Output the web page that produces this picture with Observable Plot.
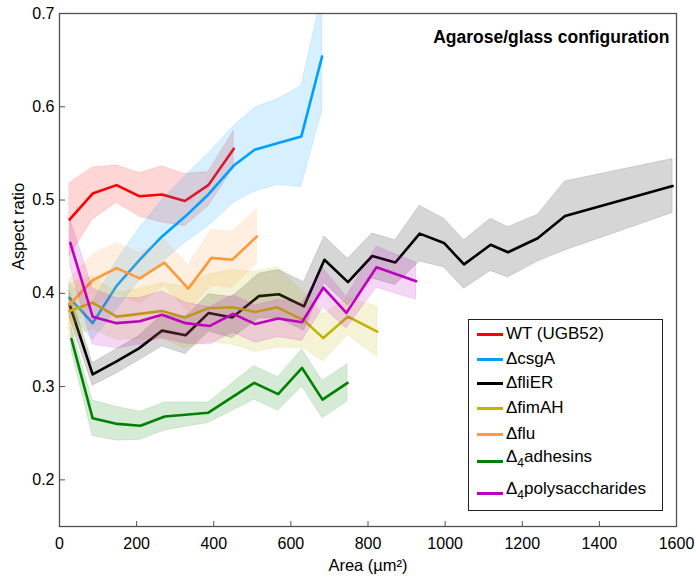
<!DOCTYPE html>
<html><head><meta charset="utf-8">
<script src="https://cdn.jsdelivr.net/npm/d3@7"></script>
<script src="https://cdn.jsdelivr.net/npm/@observablehq/plot@0.6"></script>
<style>
body{margin:0;background:#fff;font-family:"Liberation Sans",Arial,sans-serif;}
#wrap{position:relative;width:696px;height:581px;}
#legend{position:absolute;left:468px;top:319px;width:195px;height:192px;border:1px solid #222;background:#fff;box-sizing:border-box;font-size:17px;color:#000;}
.row{position:absolute;left:0;height:24px;display:flex;align-items:center;white-space:nowrap;}
.sw{width:26px;height:3px;margin-left:8px;margin-right:3px;flex:none;}
sub{font-size:12px;vertical-align:-5px;line-height:0;}
</style></head><body><div id="wrap"></div>
<script>
// ---- data ----
const xTicks = [0, 200, 400, 600, 800, 1000, 1200, 1400, 1600];
const yTicks = [0.2, 0.3, 0.4, 0.5, 0.6, 0.7];

const wtX  = [26, 86, 148, 208, 266, 325, 386, 452];
const wtY  = [0.479, 0.507, 0.516, 0.504, 0.506, 0.499, 0.516, 0.555];
const wtHi = [0.518, 0.535, 0.537, 0.529, 0.536, 0.528, 0.530, 0.574];
const wtLo = [0.440, 0.479, 0.497, 0.482, 0.476, 0.472, 0.493, 0.535];

const csgX  = [26, 86, 148, 208, 266, 325, 386, 452, 506, 565, 627, 681];
const csgY  = [0.395, 0.368, 0.408, 0.436, 0.461, 0.482, 0.506, 0.537, 0.554, 0.561, 0.568, 0.654];
const csgHi = [0.410, 0.390, 0.435, 0.470, 0.500, 0.525, 0.550, 0.579, 0.599, 0.608, 0.622, 0.720];
const csgLo = [0.380, 0.350, 0.382, 0.414, 0.433, 0.454, 0.472, 0.497, 0.509, 0.516, 0.514, 0.595];

const fliX = [26, 86, 148, 206, 266, 327, 387, 448, 517, 569, 634, 687, 748, 811, 871, 934, 997, 1049, 1118, 1163, 1240, 1311, 1590];
const fliY = [0.388, 0.313, 0.327, 0.341, 0.360, 0.355, 0.379, 0.374, 0.397, 0.399, 0.386, 0.436, 0.412, 0.440, 0.433, 0.464, 0.454, 0.431, 0.452, 0.444, 0.459, 0.483, 0.515];
const fliErr = [0.014, 0.012, 0.013, 0.013, 0.017, 0.020, 0.020, 0.022, 0.024, 0.026, 0.026, 0.025, 0.025, 0.024, 0.024, 0.030, 0.026, 0.026, 0.028, 0.027, 0.025, 0.037, 0.029];

const fimX = [26, 86, 148, 208, 266, 325, 386, 448, 508, 565, 634, 684, 748, 824];
const fimY = [0.381, 0.390, 0.375, 0.378, 0.381, 0.374, 0.384, 0.385, 0.380, 0.385, 0.371, 0.352, 0.375, 0.359];
const fimErr = [0.030, 0.028, 0.025, 0.027, 0.030, 0.033, 0.036, 0.040, 0.043, 0.043, 0.030, 0.025, 0.020, 0.027];

const fluX = [26, 86, 148, 208, 272, 334, 394, 448, 512];
const fluY = [0.388, 0.414, 0.427, 0.416, 0.433, 0.405, 0.438, 0.436, 0.461];
const fluErr = [0.027, 0.027, 0.027, 0.027, 0.025, 0.025, 0.030, 0.030, 0.029];

const adhX = [31, 86, 150, 210, 273, 386, 505, 567, 629, 682, 747];
const adhY = [0.351, 0.266, 0.260, 0.258, 0.268, 0.272, 0.304, 0.292, 0.320, 0.286, 0.304];
const adhErr = [0.012, 0.019, 0.018, 0.015, 0.015, 0.011, 0.018, 0.018, 0.020, 0.020, 0.020];

const polX = [28, 86, 148, 208, 266, 327, 390, 450, 508, 567, 629, 684, 744, 822, 925];
const polY = [0.454, 0.375, 0.368, 0.370, 0.377, 0.368, 0.365, 0.378, 0.367, 0.373, 0.369, 0.406, 0.379, 0.428, 0.413];
const polErr = [0.025, 0.030, 0.027, 0.025, 0.025, 0.022, 0.020, 0.020, 0.020, 0.020, 0.020, 0.021, 0.017, 0.022, 0.020];

const names = ["WT (UGB52)", "ΔcsgA", "ΔfliER", "ΔfimAH", "Δflu", "Δ<sub>4</sub>adhesins", "Δ<sub>4</sub>polysaccharides"];
const colors = ["#ff0000", "#00a0ff", "#000000", "#bfb400", "#ff9a3c", "#008000", "#c000c0"];

// ---- build tables ----
function rowsLoHi(x, y, lo, hi) { return x.map((v, i) => ({x: v, y: y[i], lo: lo[i], hi: hi[i]})); }
function rowsErr(x, y, e) { return x.map((v, i) => ({x: v, y: y[i], lo: y[i] - e[i], hi: y[i] + e[i]})); }
const tables = [
  rowsLoHi(wtX, wtY, wtLo, wtHi),
  rowsLoHi(csgX, csgY, csgLo, csgHi),
  rowsErr(fliX, fliY, fliErr),
  rowsErr(fimX, fimY, fimErr),
  rowsErr(fluX, fluY, fluErr),
  rowsErr(adhX, adhY, adhErr),
  rowsErr(polX, polY, polErr)
];

const W = 696, H = 581, mL = 59, mR = 20, mT = 13, mB = 55;
const innerW = W - mL - mR, innerH = H - mT - mB;

const seriesMarks = tables.flatMap((t, i) => [
  Plot.areaY(t, {x: "x", y1: "lo", y2: "hi", fill: colors[i], fillOpacity: 0.16, stroke: colors[i], strokeOpacity: 0.12, strokeWidth: 1, clip: true}),
  Plot.line(t, {x: "x", y: "y", stroke: colors[i], strokeWidth: 2.6, clip: true})
]);

const chart = Plot.plot({
  width: W, height: H,
  marginLeft: mL, marginRight: mR, marginTop: mT, marginBottom: mB,
  style: {fontFamily: "'Liberation Sans', Arial, sans-serif", fontSize: "16px", background: "#fff", color: "#000"},
  x: {domain: [0, 1600]},
  y: {domain: [0.15, 0.7]},
  marks: [
    ...seriesMarks,
    Plot.tickX(xTicks, {x: d => d, stroke: "#505050", insetTop: innerH - 5}),
    Plot.tickY(yTicks, {y: d => d, stroke: "#505050", insetRight: innerW - 6}),
    Plot.frame({stroke: "#505050", strokeWidth: 1.3}),
    Plot.axisX(xTicks, {tickSize: 0, tickPadding: 11, tickFormat: d => String(d), label: null, fontSize: 16}),
    Plot.axisY(yTicks, {tickSize: 0, tickPadding: 5, tickFormat: d => d.toFixed(1), label: null, fontSize: 16}),
    Plot.text(["Agarose/glass configuration"], {frameAnchor: "top-right", textAnchor: "end", dx: -7, dy: 17, fontWeight: "bold", fontSize: 17.5}),
    Plot.text(["Aspect ratio"], {frameAnchor: "left", rotate: -90, dx: -41, fontSize: 16.5}),
    Plot.text(["Area (µm²)"], {frameAnchor: "bottom", dy: 44, fontSize: 16.5})
  ]
});

const wrap = document.getElementById("wrap");
wrap.appendChild(chart);

// ---- legend ----
const legend = document.createElement("div");
legend.id = "legend";
const lineCenters = [14, 39, 63, 88, 114, 141, 173];
names.forEach((n, i) => {
  const r = document.createElement("div");
  r.className = "row";
  const sub = n.includes("<sub>");
  r.style.top = (lineCenters[i] - 12 - (sub ? 4 : 0)) + "px";
  r.innerHTML = `<span class="sw" style="background:${colors[i]};${sub ? "position:relative;top:4px;" : ""}"></span><span>${n}</span>`;
  legend.appendChild(r);
});
wrap.appendChild(legend);
</script>
</body></html>
